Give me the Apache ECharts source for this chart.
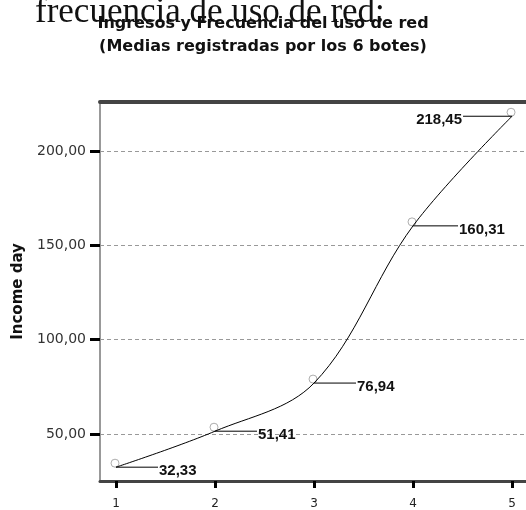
<!DOCTYPE html>
<html>
<head>
<meta charset="utf-8">
<script src="https://cdn.jsdelivr.net/npm/echarts@6/dist/echarts.min.js"></script>
<style>html,body{margin:0;padding:0;background:#fff;}#c{width:526px;height:510px;}</style>
</head>
<body>
<div id="c"></div>
<script>
// Data
const groups = [1, 2, 3, 4, 5];
const incomeMeans = [32.33, 51.41, 76.94, 160.31, 218.45];
const yTickValues = [50, 100, 150, 200];
const xTickValues = [1, 2, 3, 4, 5];
const titleLines = ['Ingresos y Frecuencia del uso de red', '(Medias registradas por los 6 botes)'];
const backText = 'frecuencia de uso de red:';
const yAxisTitle = 'Income day';

const fmt = v => v.toFixed(2).replace('.', ',');
const points = groups.map((g, i) => [g, incomeMeans[i]]);

const chart = echarts.init(document.getElementById('c'), null, { renderer: 'canvas' });
chart.setOption({
  animation: false,
  backgroundColor: '#fff',
  graphic: [{
    type: 'text', x: 35, y: 30, z: 0,
    style: { text: backText, font: '35px "Liberation Serif"', fill: '#111', verticalAlign: 'bottom', align: 'left' }
  }],
  title: {
    text: titleLines.join('\n'), left: 'center', top: 7, z: 10,
    textStyle: { fontFamily: 'DejaVu Sans', fontWeight: 'bold', fontSize: 16, lineHeight: 23, color: '#111' }
  },
  grid: { left: 100, right: 0, top: 102, height: 384, containLabel: false },
  xAxis: [{
    type: 'value', min: 0.8384, max: 5.141, position: 'bottom',
    axisLine: { show: true, onZero: false, lineStyle: { color: '#444', width: 3 } },
    axisTick: { show: true, customValues: xTickValues, length: 7, lineStyle: { color: '#000', width: 3 } },
    axisLabel: { show: true, customValues: xTickValues, margin: 17, fontFamily: 'DejaVu Sans', fontSize: 12, color: '#222', formatter: v => String(v) },
    splitLine: { show: false }
  }, {
    type: 'value', min: 0.8384, max: 5.141, position: 'top',
    axisLine: { show: true, onZero: false, lineStyle: { color: '#444', width: 4 } },
    axisTick: { show: false }, axisLabel: { show: false }, splitLine: { show: false }
  }],
  yAxis: {
    type: 'value', min: 25, max: 226,
    name: yAxisTitle, nameLocation: 'middle', nameRotate: 90, nameGap: 74,
    nameTextStyle: { fontFamily: 'DejaVu Sans', fontWeight: 'bold', fontSize: 15, color: '#111' },
    axisLine: { show: true, onZero: false, lineStyle: { color: '#999', width: 2 } },
    axisTick: { show: true, customValues: yTickValues, length: 10, lineStyle: { color: '#000', width: 3 } },
    axisLabel: { show: true, customValues: yTickValues, margin: 14, fontFamily: 'DejaVu Sans', fontSize: 14, color: '#333', formatter: v => fmt(v) },
    splitLine: { show: true, lineStyle: { color: '#999', type: [4, 3], width: 1 } }
  },
  series: [{
    type: 'scatter', data: points,
    symbol: 'circle', symbolSize: 8, symbolOffset: [-1, -4],
    itemStyle: { color: '#fff', borderColor: '#999', borderWidth: 1 },
    z: 2, silent: true
  }, {
    type: 'line', data: points, smooth: 0.35,
    lineStyle: { color: '#000', width: 1 },
    showSymbol: false, symbol: 'none',
    z: 3
  }, {
    type: 'custom', data: points, z: 4, silent: true,
    renderItem: (params, api) => {
      const xv = api.value(0), yv = api.value(1);
      const pt = api.coord([xv, yv]);
      const last = params.dataIndex === params.dataInsideLength - 1;
      const dir = last ? -1 : 1;
      const len = last ? 49 : (params.dataIndex === 3 ? 45 : 42);
      return {
        type: 'group',
        children: [{
          type: 'line',
          shape: { x1: pt[0], y1: pt[1], x2: pt[0] + dir * len, y2: pt[1] },
          style: { stroke: '#000', lineWidth: 1 }
        }, {
          type: 'text',
          x: pt[0] + dir * (len + 1), y: pt[1] + 4,
          style: {
            text: fmt(yv), font: 'bold 15px "Liberation Sans"', fill: '#111',
            align: last ? 'right' : 'left', verticalAlign: 'middle'
          }
        }]
      };
    }
  }]
});
</script>
</body>
</html>
